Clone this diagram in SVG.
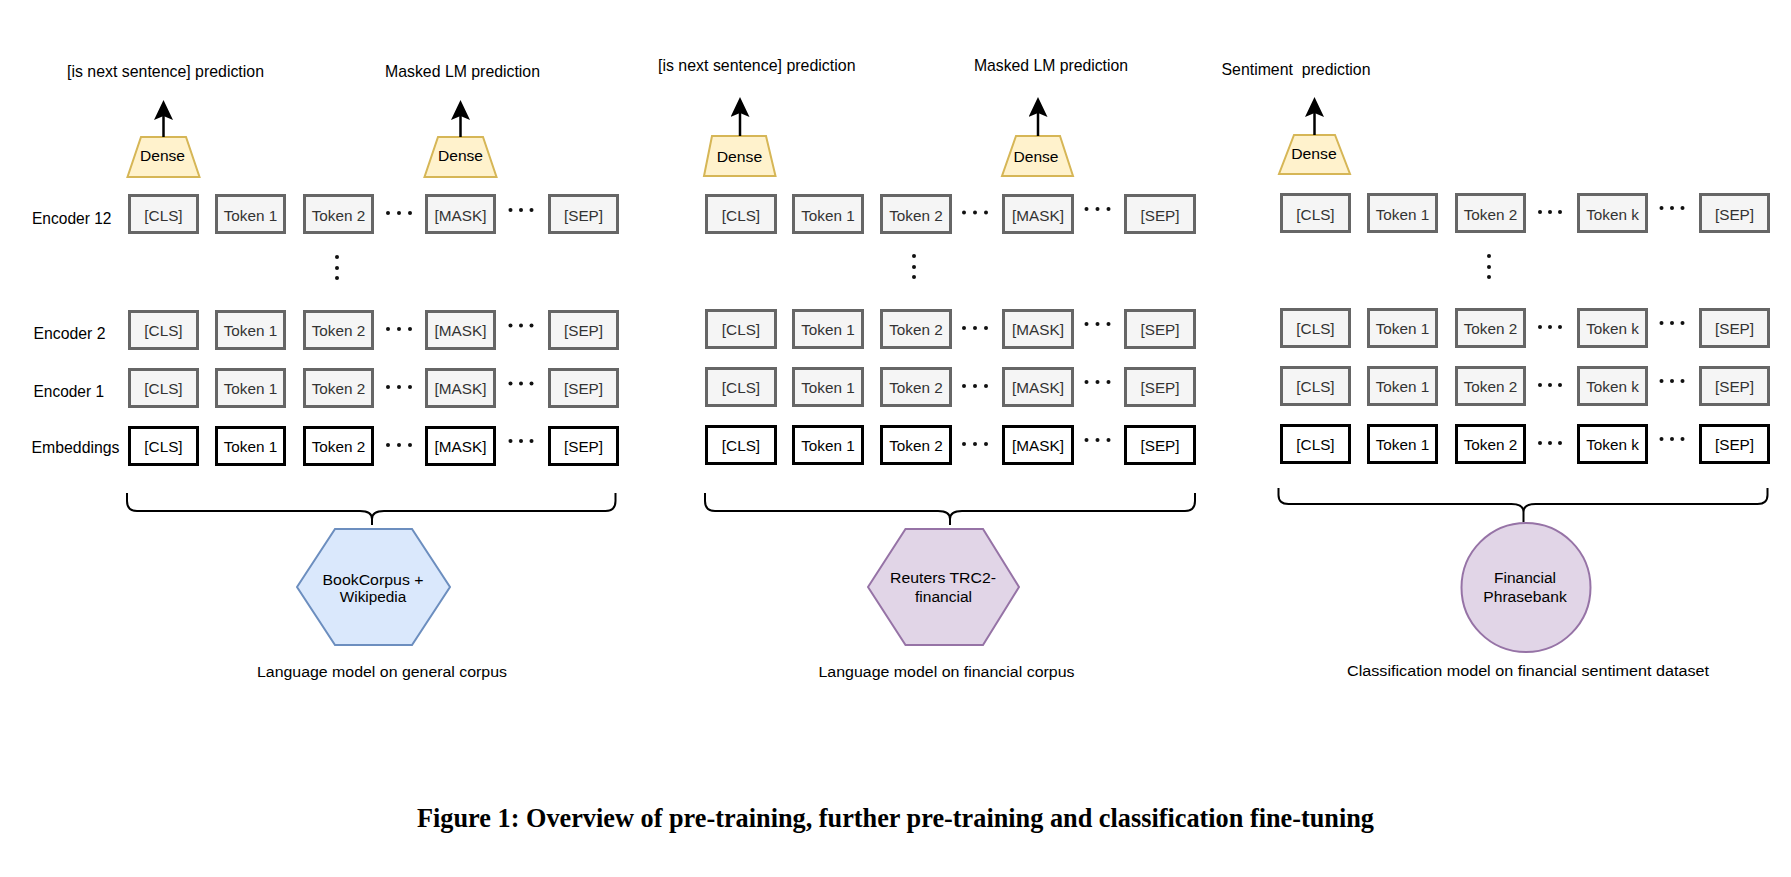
<svg xmlns="http://www.w3.org/2000/svg" width="1791" height="877" viewBox="0 0 1791 877">
<defs>
<style>
text{font-family:"Liberation Sans",Arial,Helvetica,sans-serif;}
.lbl{font-size:15.7px;fill:#000;}
.bt{font-size:15.3px;fill:#333;text-anchor:middle;}
.be{font-size:15.3px;fill:#000;text-anchor:middle;}
.g{fill:#f5f5f5;stroke:#666;stroke-width:3;}
.e{fill:#fff;stroke:#000;stroke-width:3;}
.dense{fill:#fff2cc;stroke:#d6b656;stroke-width:2;}
.dt{font-size:15.5px;fill:#000;text-anchor:middle;}
.dot{fill:#111;}
.brace{fill:none;stroke:#000;stroke-width:2;}
.arr{stroke:#000;stroke-width:2.5;fill:none;}
.hexb{fill:#dae8fc;stroke:#6c8ebf;stroke-width:2;}
.hexp{fill:#e1d5e7;stroke:#9673a6;stroke-width:2;}
.ct{font-size:15.3px;fill:#000;text-anchor:middle;}
.cap{font-size:15.5px;fill:#000;text-anchor:middle;}
.title{font-family:"Liberation Serif","Times New Roman",serif;font-weight:bold;font-size:26.5px;fill:#000;text-anchor:middle;}
</style>
<marker id="ah" markerUnits="userSpaceOnUse" markerWidth="20" markerHeight="19" viewBox="0 0 20 19" refX="4" refY="9.5" orient="auto">
<path d="M0,0 L20,9.5 L0,19 L4,9.5 Z" fill="#000"/>
</marker>
</defs>
<rect x="0" y="0" width="1791" height="877" fill="#fff"/>

<!-- ============ PANEL 1 ============ -->
<g id="p1-labels">
<text class="lbl" x="67" y="77" textLength="197" lengthAdjust="spacingAndGlyphs">[is next sentence] prediction</text>
<text class="lbl" x="385" y="77" textLength="155" lengthAdjust="spacingAndGlyphs">Masked LM prediction</text>
<text class="lbl" x="32" y="224" textLength="79.5" lengthAdjust="spacingAndGlyphs">Encoder 12</text>
<text class="lbl" x="33.5" y="339" textLength="72" lengthAdjust="spacingAndGlyphs">Encoder 2</text>
<text class="lbl" x="33.5" y="397" textLength="70.5" lengthAdjust="spacingAndGlyphs">Encoder 1</text>
<text class="lbl" x="31.5" y="453" textLength="88" lengthAdjust="spacingAndGlyphs">Embeddings</text>
</g>
<g id="p1-dense1"><polygon class="dense" points="141,137 186,137 199.5,177 127.5,177"/><text class="dt" x="162.5" y="161" textLength="45" lengthAdjust="spacingAndGlyphs">Dense</text></g>
<g id="p1-dense2"><polygon class="dense" points="438,137 483,137 496.5,177 424.5,177"/><text class="dt" x="460.5" y="161" textLength="45" lengthAdjust="spacingAndGlyphs">Dense</text></g>

<g id="p1-enc12">
<rect class="g" x="129.5" y="195.5" width="68" height="37"/><text class="bt" x="163.5" y="221">[CLS]</text>
<rect class="g" x="216.5" y="195.5" width="68" height="37"/><text class="bt" x="250.5" y="221">Token 1</text>
<rect class="g" x="304.5" y="195.5" width="68" height="37"/><text class="bt" x="338.5" y="221">Token 2</text>
<rect class="g" x="426.5" y="195.5" width="68" height="37"/><text class="bt" x="460.5" y="221">[MASK]</text>
<rect class="g" x="549.5" y="195.5" width="68" height="37"/><text class="bt" x="583.5" y="221">[SEP]</text>
<circle class="dot" cx="388" cy="213" r="2"/><circle class="dot" cx="399" cy="213" r="2"/><circle class="dot" cx="410" cy="213" r="2"/>
<circle class="dot" cx="510.5" cy="210" r="2"/><circle class="dot" cx="521" cy="210" r="2"/><circle class="dot" cx="531.5" cy="210" r="2"/>
</g>
<g id="p1-vdots"><circle class="dot" cx="337" cy="257" r="2"/><circle class="dot" cx="337" cy="268" r="2"/><circle class="dot" cx="337" cy="278" r="2"/></g>
<g id="p1-enc2">
<rect class="g" x="129.5" y="311.5" width="68" height="37"/><text class="bt" x="163.5" y="336">[CLS]</text>
<rect class="g" x="216.5" y="311.5" width="68" height="37"/><text class="bt" x="250.5" y="336">Token 1</text>
<rect class="g" x="304.5" y="311.5" width="68" height="37"/><text class="bt" x="338.5" y="336">Token 2</text>
<rect class="g" x="426.5" y="311.5" width="68" height="37"/><text class="bt" x="460.5" y="336">[MASK]</text>
<rect class="g" x="549.5" y="311.5" width="68" height="37"/><text class="bt" x="583.5" y="336">[SEP]</text>
<circle class="dot" cx="388" cy="329" r="2"/><circle class="dot" cx="399" cy="329" r="2"/><circle class="dot" cx="410" cy="329" r="2"/>
<circle class="dot" cx="510.5" cy="325.5" r="2"/><circle class="dot" cx="521" cy="325.5" r="2"/><circle class="dot" cx="531.5" cy="325.5" r="2"/>
</g>
<g id="p1-enc1">
<rect class="g" x="129.5" y="369.5" width="68" height="37"/><text class="bt" x="163.5" y="394">[CLS]</text>
<rect class="g" x="216.5" y="369.5" width="68" height="37"/><text class="bt" x="250.5" y="394">Token 1</text>
<rect class="g" x="304.5" y="369.5" width="68" height="37"/><text class="bt" x="338.5" y="394">Token 2</text>
<rect class="g" x="426.5" y="369.5" width="68" height="37"/><text class="bt" x="460.5" y="394">[MASK]</text>
<rect class="g" x="549.5" y="369.5" width="68" height="37"/><text class="bt" x="583.5" y="394">[SEP]</text>
<circle class="dot" cx="388" cy="387" r="2"/><circle class="dot" cx="399" cy="387" r="2"/><circle class="dot" cx="410" cy="387" r="2"/>
<circle class="dot" cx="510.5" cy="383.5" r="2"/><circle class="dot" cx="521" cy="383.5" r="2"/><circle class="dot" cx="531.5" cy="383.5" r="2"/>
</g>
<g id="p1-emb">
<rect class="e" x="129.5" y="427.5" width="68" height="37"/><text class="be" x="163.5" y="452">[CLS]</text>
<rect class="e" x="216.5" y="427.5" width="68" height="37"/><text class="be" x="250.5" y="452">Token 1</text>
<rect class="e" x="304.5" y="427.5" width="68" height="37"/><text class="be" x="338.5" y="452">Token 2</text>
<rect class="e" x="426.5" y="427.5" width="68" height="37"/><text class="be" x="460.5" y="452">[MASK]</text>
<rect class="e" x="549.5" y="427.5" width="68" height="37"/><text class="be" x="583.5" y="452">[SEP]</text>
<circle class="dot" cx="388" cy="445" r="2"/><circle class="dot" cx="399" cy="445" r="2"/><circle class="dot" cx="410" cy="445" r="2"/>
<circle class="dot" cx="510.5" cy="441" r="2"/><circle class="dot" cx="521" cy="441" r="2"/><circle class="dot" cx="531.5" cy="441" r="2"/>
</g>
<g id="p1-brace"><path class="brace" d="M127,493 V501 Q127,511 137,511 H360 Q372,511 372,519 V525 M372,519 Q372,511 384,511 H605.5 Q615.5,511 615.5,501 V493"/></g>
<g id="p1-corpus">
<polygon class="hexb" points="297,587 335,529 412,529 450,587 412,645 335,645"/>
<text class="ct" x="373" y="585" textLength="101" lengthAdjust="spacingAndGlyphs">BookCorpus +</text>
<text class="ct" x="373" y="602" textLength="66.5" lengthAdjust="spacingAndGlyphs">Wikipedia</text>
</g>
<g id="p1-caption"><text class="cap" x="382" y="677" textLength="250" lengthAdjust="spacingAndGlyphs">Language model on general corpus</text></g>

<!-- ============ PANEL 2 ============ -->
<g id="p2-labels">
<text class="lbl" x="658" y="71" textLength="197.5" lengthAdjust="spacingAndGlyphs">[is next sentence] prediction</text>
<text class="lbl" x="974" y="71" textLength="154" lengthAdjust="spacingAndGlyphs">Masked LM prediction</text>
</g>
<g id="p2-dense1"><polygon class="dense" points="712,136 766,136 775.5,176 704,176"/><text class="dt" x="739.5" y="162" textLength="45.5" lengthAdjust="spacingAndGlyphs">Dense</text></g>
<g id="p2-dense2"><polygon class="dense" points="1016,136 1060,136 1073,176 1002,176"/><text class="dt" x="1036" y="162" textLength="45" lengthAdjust="spacingAndGlyphs">Dense</text></g>

<g id="p2-enc12">
<rect class="g" x="706.5" y="195.5" width="69" height="37"/><text class="bt" x="741" y="221">[CLS]</text>
<rect class="g" x="793.5" y="195.5" width="69" height="37"/><text class="bt" x="828" y="221">Token 1</text>
<rect class="g" x="881.5" y="195.5" width="69" height="37"/><text class="bt" x="916" y="221">Token 2</text>
<rect class="g" x="1003.5" y="195.5" width="69" height="37"/><text class="bt" x="1038" y="221">[MASK]</text>
<rect class="g" x="1125.5" y="195.5" width="69" height="37"/><text class="bt" x="1160" y="221">[SEP]</text>
<circle class="dot" cx="964" cy="212.5" r="2"/><circle class="dot" cx="975" cy="212.5" r="2"/><circle class="dot" cx="986" cy="212.5" r="2"/>
<circle class="dot" cx="1086.5" cy="209" r="2"/><circle class="dot" cx="1097.5" cy="209" r="2"/><circle class="dot" cx="1108.5" cy="209" r="2"/>
</g>
<g id="p2-vdots"><circle class="dot" cx="914" cy="256" r="2"/><circle class="dot" cx="914" cy="267" r="2"/><circle class="dot" cx="914" cy="277" r="2"/></g>
<g id="p2-enc2">
<rect class="g" x="706.5" y="310.5" width="69" height="37"/><text class="bt" x="741" y="335">[CLS]</text>
<rect class="g" x="793.5" y="310.5" width="69" height="37"/><text class="bt" x="828" y="335">Token 1</text>
<rect class="g" x="881.5" y="310.5" width="69" height="37"/><text class="bt" x="916" y="335">Token 2</text>
<rect class="g" x="1003.5" y="310.5" width="69" height="37"/><text class="bt" x="1038" y="335">[MASK]</text>
<rect class="g" x="1125.5" y="310.5" width="69" height="37"/><text class="bt" x="1160" y="335">[SEP]</text>
<circle class="dot" cx="964" cy="328" r="2"/><circle class="dot" cx="975" cy="328" r="2"/><circle class="dot" cx="986" cy="328" r="2"/>
<circle class="dot" cx="1086.5" cy="324" r="2"/><circle class="dot" cx="1097.5" cy="324" r="2"/><circle class="dot" cx="1108.5" cy="324" r="2"/>
</g>
<g id="p2-enc1">
<rect class="g" x="706.5" y="368.5" width="69" height="37"/><text class="bt" x="741" y="393">[CLS]</text>
<rect class="g" x="793.5" y="368.5" width="69" height="37"/><text class="bt" x="828" y="393">Token 1</text>
<rect class="g" x="881.5" y="368.5" width="69" height="37"/><text class="bt" x="916" y="393">Token 2</text>
<rect class="g" x="1003.5" y="368.5" width="69" height="37"/><text class="bt" x="1038" y="393">[MASK]</text>
<rect class="g" x="1125.5" y="368.5" width="69" height="37"/><text class="bt" x="1160" y="393">[SEP]</text>
<circle class="dot" cx="964" cy="386" r="2"/><circle class="dot" cx="975" cy="386" r="2"/><circle class="dot" cx="986" cy="386" r="2"/>
<circle class="dot" cx="1086.5" cy="382" r="2"/><circle class="dot" cx="1097.5" cy="382" r="2"/><circle class="dot" cx="1108.5" cy="382" r="2"/>
</g>
<g id="p2-emb">
<rect class="e" x="706.5" y="426.5" width="69" height="37"/><text class="be" x="741" y="451">[CLS]</text>
<rect class="e" x="793.5" y="426.5" width="69" height="37"/><text class="be" x="828" y="451">Token 1</text>
<rect class="e" x="881.5" y="426.5" width="69" height="37"/><text class="be" x="916" y="451">Token 2</text>
<rect class="e" x="1003.5" y="426.5" width="69" height="37"/><text class="be" x="1038" y="451">[MASK]</text>
<rect class="e" x="1125.5" y="426.5" width="69" height="37"/><text class="be" x="1160" y="451">[SEP]</text>
<circle class="dot" cx="964" cy="444" r="2"/><circle class="dot" cx="975" cy="444" r="2"/><circle class="dot" cx="986" cy="444" r="2"/>
<circle class="dot" cx="1086.5" cy="440" r="2"/><circle class="dot" cx="1097.5" cy="440" r="2"/><circle class="dot" cx="1108.5" cy="440" r="2"/>
</g>
<g id="p2-brace"><path class="brace" d="M705,493 V501 Q705,511 715,511 H938 Q950,511 950,519 V525 M950,519 Q950,511 962,511 H1185 Q1195,511 1195,501 V493"/></g>
<g id="p2-corpus">
<polygon class="hexp" points="868,587 905.5,529 983,529 1019,587 983,645 905.5,645"/>
<text class="ct" x="943" y="583" textLength="106" lengthAdjust="spacingAndGlyphs">Reuters TRC2-</text>
<text class="ct" x="943.5" y="602" textLength="57" lengthAdjust="spacingAndGlyphs">financial</text>
</g>
<g id="p2-caption"><text class="cap" x="946.5" y="677" textLength="256" lengthAdjust="spacingAndGlyphs">Language model on financial corpus</text></g>

<!-- ============ PANEL 3 ============ -->
<g id="p3-labels">
<text class="lbl" x="1221.5" y="75" textLength="149" lengthAdjust="spacingAndGlyphs" xml:space="preserve">Sentiment  prediction</text>
</g>
<g id="p3-dense"><polygon class="dense" points="1294,135 1335,135 1350,174 1279,174"/><text class="dt" x="1314" y="159" textLength="45.5" lengthAdjust="spacingAndGlyphs">Dense</text></g>

<g id="p3-enc12">
<rect class="g" x="1281.5" y="194.5" width="68" height="37"/><text class="bt" x="1315.5" y="220">[CLS]</text>
<rect class="g" x="1368.5" y="194.5" width="68" height="37"/><text class="bt" x="1402.5" y="220">Token 1</text>
<rect class="g" x="1456.5" y="194.5" width="68" height="37"/><text class="bt" x="1490.5" y="220">Token 2</text>
<rect class="g" x="1578.5" y="194.5" width="68" height="37"/><text class="bt" x="1612.5" y="220">Token k</text>
<rect class="g" x="1700.5" y="194.5" width="68" height="37"/><text class="bt" x="1734.5" y="220">[SEP]</text>
<circle class="dot" cx="1540" cy="212" r="2"/><circle class="dot" cx="1550" cy="212" r="2"/><circle class="dot" cx="1560" cy="212" r="2"/>
<circle class="dot" cx="1661.5" cy="208" r="2"/><circle class="dot" cx="1672" cy="208" r="2"/><circle class="dot" cx="1682.5" cy="208" r="2"/>
</g>
<g id="p3-vdots"><circle class="dot" cx="1489" cy="256" r="2"/><circle class="dot" cx="1489" cy="267" r="2"/><circle class="dot" cx="1489" cy="277" r="2"/></g>
<g id="p3-enc2">
<rect class="g" x="1281.5" y="309.5" width="68" height="37"/><text class="bt" x="1315.5" y="334">[CLS]</text>
<rect class="g" x="1368.5" y="309.5" width="68" height="37"/><text class="bt" x="1402.5" y="334">Token 1</text>
<rect class="g" x="1456.5" y="309.5" width="68" height="37"/><text class="bt" x="1490.5" y="334">Token 2</text>
<rect class="g" x="1578.5" y="309.5" width="68" height="37"/><text class="bt" x="1612.5" y="334">Token k</text>
<rect class="g" x="1700.5" y="309.5" width="68" height="37"/><text class="bt" x="1734.5" y="334">[SEP]</text>
<circle class="dot" cx="1540" cy="327" r="2"/><circle class="dot" cx="1550" cy="327" r="2"/><circle class="dot" cx="1560" cy="327" r="2"/>
<circle class="dot" cx="1661.5" cy="323" r="2"/><circle class="dot" cx="1672" cy="323" r="2"/><circle class="dot" cx="1682.5" cy="323" r="2"/>
</g>
<g id="p3-enc1">
<rect class="g" x="1281.5" y="367.5" width="68" height="37"/><text class="bt" x="1315.5" y="392">[CLS]</text>
<rect class="g" x="1368.5" y="367.5" width="68" height="37"/><text class="bt" x="1402.5" y="392">Token 1</text>
<rect class="g" x="1456.5" y="367.5" width="68" height="37"/><text class="bt" x="1490.5" y="392">Token 2</text>
<rect class="g" x="1578.5" y="367.5" width="68" height="37"/><text class="bt" x="1612.5" y="392">Token k</text>
<rect class="g" x="1700.5" y="367.5" width="68" height="37"/><text class="bt" x="1734.5" y="392">[SEP]</text>
<circle class="dot" cx="1540" cy="385" r="2"/><circle class="dot" cx="1550" cy="385" r="2"/><circle class="dot" cx="1560" cy="385" r="2"/>
<circle class="dot" cx="1661.5" cy="381" r="2"/><circle class="dot" cx="1672" cy="381" r="2"/><circle class="dot" cx="1682.5" cy="381" r="2"/>
</g>
<g id="p3-emb">
<rect class="e" x="1281.5" y="425.5" width="68" height="37"/><text class="be" x="1315.5" y="450">[CLS]</text>
<rect class="e" x="1368.5" y="425.5" width="68" height="37"/><text class="be" x="1402.5" y="450">Token 1</text>
<rect class="e" x="1456.5" y="425.5" width="68" height="37"/><text class="be" x="1490.5" y="450">Token 2</text>
<rect class="e" x="1578.5" y="425.5" width="68" height="37"/><text class="be" x="1612.5" y="450">Token k</text>
<rect class="e" x="1700.5" y="425.5" width="68" height="37"/><text class="be" x="1734.5" y="450">[SEP]</text>
<circle class="dot" cx="1540" cy="443" r="2"/><circle class="dot" cx="1550" cy="443" r="2"/><circle class="dot" cx="1560" cy="443" r="2"/>
<circle class="dot" cx="1661.5" cy="439" r="2"/><circle class="dot" cx="1672" cy="439" r="2"/><circle class="dot" cx="1682.5" cy="439" r="2"/>
</g>
<g id="p3-brace"><path class="brace" d="M1278.5,488 V495 Q1278.5,504 1288.5,504 H1511.5 Q1523.5,504 1523.5,512 V522 M1523.5,512 Q1523.5,504 1535.5,504 H1757.5 Q1767.5,504 1767.5,495 V488"/></g>
<g id="p3-dataset">
<circle class="hexp" cx="1526" cy="587.5" r="64.5"/>
<text class="ct" x="1525" y="583" textLength="62" lengthAdjust="spacingAndGlyphs">Financial</text>
<text class="ct" x="1525" y="602" textLength="83.5" lengthAdjust="spacingAndGlyphs">Phrasebank</text>
</g>
<g id="p3-caption"><text class="cap" x="1528" y="676" textLength="362" lengthAdjust="spacingAndGlyphs">Classification model on financial sentiment dataset</text></g>

<!-- ============ CONNECTORS ============ -->
<g id="connectors">
<line class="arr" x1="163.5" y1="137" x2="163.5" y2="116" marker-end="url(#ah)"/>
<line class="arr" x1="460.5" y1="137" x2="460.5" y2="116" marker-end="url(#ah)"/>
<line class="arr" x1="740" y1="136" x2="740" y2="113" marker-end="url(#ah)"/>
<line class="arr" x1="1038" y1="136" x2="1038" y2="113" marker-end="url(#ah)"/>
<line class="arr" x1="1314.5" y1="135" x2="1314.5" y2="113" marker-end="url(#ah)"/>
</g>

<g id="title"><text class="title" x="895.5" y="827" textLength="957" lengthAdjust="spacingAndGlyphs">Figure 1: Overview of pre-training, further pre-training and classification fine-tuning</text></g>
</svg>
